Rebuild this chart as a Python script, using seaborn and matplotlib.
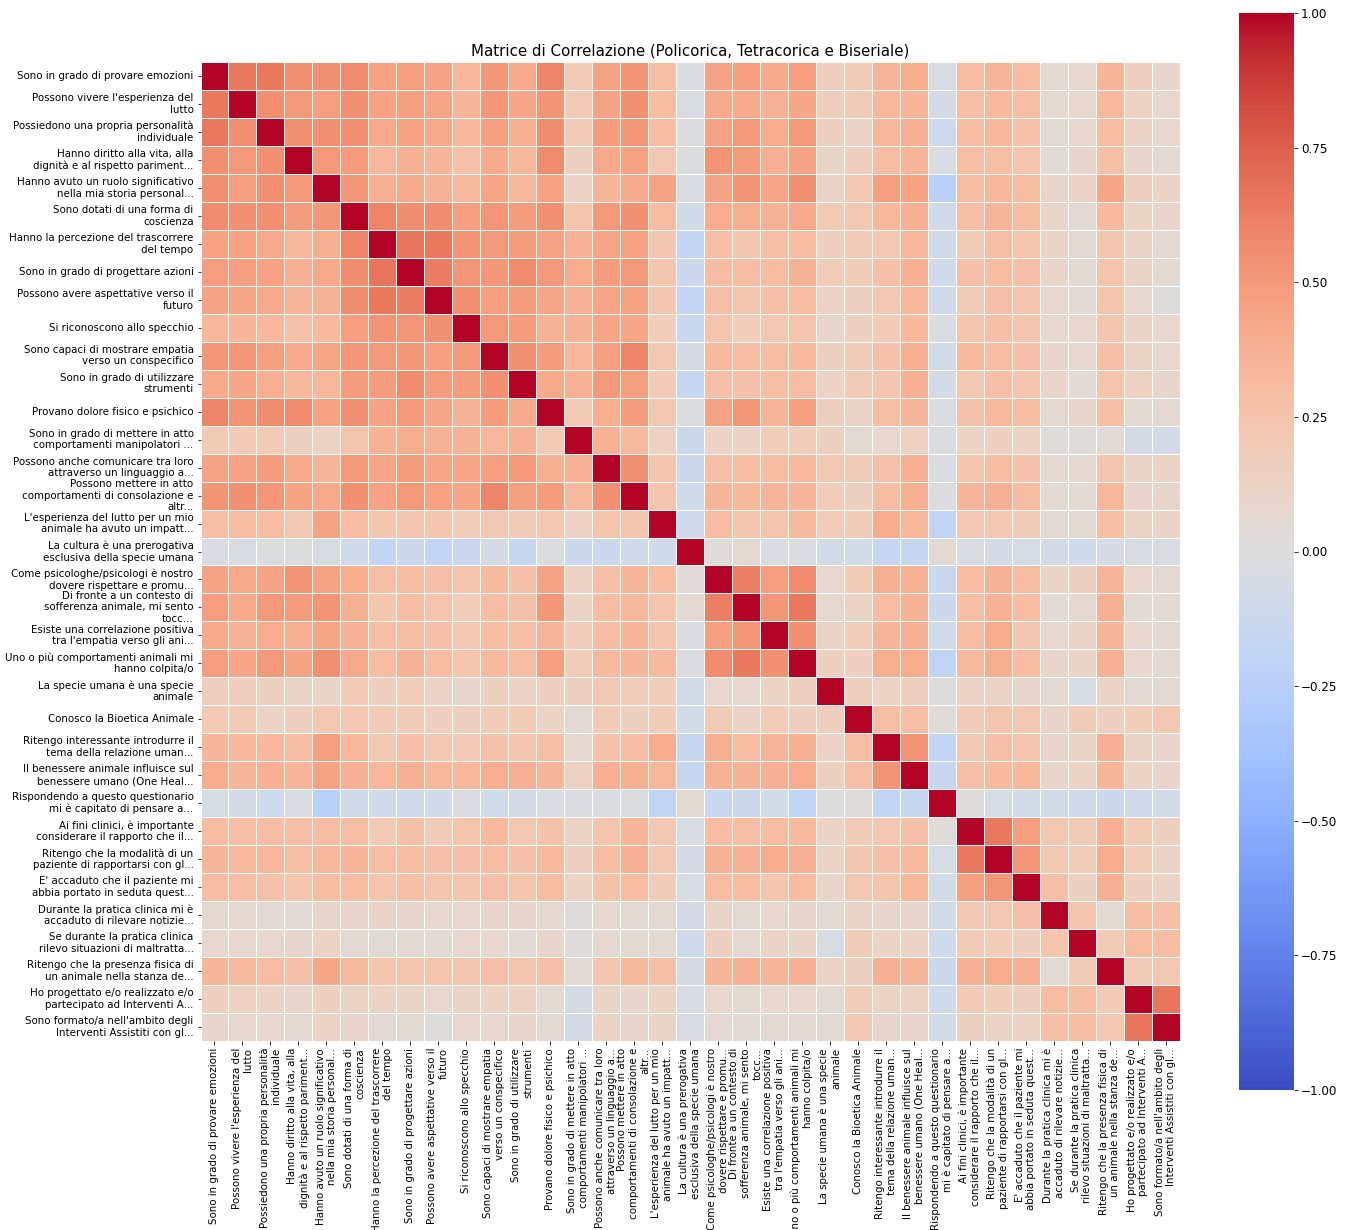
import numpy as np
import pandas as pd
import matplotlib
matplotlib.use("Agg")
import matplotlib.pyplot as plt
import seaborn as sns

# Questionnaire items (wrapped / truncated as displayed on the axes)
items = [
    "Sono in grado di provare emozioni",
    "Possono vivere l'esperienza del\nlutto",
    "Possiedono una propria personalità\nindividuale",
    "Hanno diritto alla vita, alla\ndignità e al rispetto pariment...",
    "Hanno avuto un ruolo significativo\nnella mia storia personal...",
    "Sono dotati di una forma di\ncoscienza",
    "Hanno la percezione del trascorrere\ndel tempo",
    "Sono in grado di progettare azioni",
    "Possono avere aspettative verso il\nfuturo",
    "Si riconoscono allo specchio",
    "Sono capaci di mostrare empatia\nverso un conspecifico",
    "Sono in grado di utilizzare\nstrumenti",
    "Provano dolore fisico e psichico",
    "Sono in grado di mettere in atto\ncomportamenti manipolatori ...",
    "Possono anche comunicare tra loro\nattraverso un linguaggio a...",
    "Possono mettere in atto\ncomportamenti di consolazione e\naltr...",
    "L'esperienza del lutto per un mio\nanimale ha avuto un impatt...",
    "La cultura è una prerogativa\nesclusiva della specie umana",
    "Come psicologhe/psicologi è nostro\ndovere rispettare e promu...",
    "Di fronte a un contesto di\nsofferenza animale, mi sento\ntocc...",
    "Esiste una correlazione positiva\ntra l'empatia verso gli ani...",
    "Uno o più comportamenti animali mi\nhanno colpita/o",
    "La specie umana è una specie\nanimale",
    "Conosco la Bioetica Animale",
    "Ritengo interessante introdurre il\ntema della relazione uman...",
    "Il benessere animale influisce sul\nbenessere umano (One Heal...",
    "Rispondendo a questo questionario\nmi è capitato di pensare a...",
    "Ai fini clinici, è importante\nconsiderare il rapporto che il...",
    "Ritengo che la modalità di un\npaziente di rapportarsi con gl...",
    "E' accaduto che il paziente mi\nabbia portato in seduta quest...",
    "Durante la pratica clinica mi è\naccaduto di rilevare notizie...",
    "Se durante la pratica clinica\nrilevo situazioni di maltratta...",
    "Ritengo che la presenza fisica di\nun animale nella stanza de...",
    "Ho progettato e/o realizzato e/o\npartecipato ad Interventi A...",
    "Sono formato/a nell'ambito degli\nInterventi Assistiti con gl...",
]

# Lower triangle of the correlation matrix (row i holds columns 0..i-1)
corr_lower = [
    [],
    [0.65],
    [0.65, 0.55],
    [0.55, 0.50, 0.55],
    [0.55, 0.47, 0.55, 0.50],
    [0.57, 0.55, 0.55, 0.49, 0.51],
    [0.46, 0.46, 0.42, 0.34, 0.39, 0.60],
    [0.48, 0.47, 0.46, 0.38, 0.42, 0.56, 0.66],
    [0.45, 0.44, 0.42, 0.35, 0.37, 0.56, 0.65, 0.63],
    [0.34, 0.35, 0.33, 0.27, 0.32, 0.47, 0.53, 0.52, 0.54],
    [0.51, 0.51, 0.47, 0.41, 0.44, 0.52, 0.50, 0.51, 0.47, 0.50],
    [0.41, 0.43, 0.39, 0.34, 0.34, 0.49, 0.49, 0.57, 0.49, 0.49, 0.54],
    [0.60, 0.53, 0.56, 0.57, 0.46, 0.54, 0.45, 0.50, 0.44, 0.36, 0.49, 0.41],
    [0.20, 0.21, 0.20, 0.15, 0.13, 0.25, 0.37, 0.40, 0.37, 0.36, 0.34, 0.37, 0.20],
    [0.45, 0.45, 0.49, 0.42, 0.35, 0.50, 0.44, 0.49, 0.44, 0.43, 0.47, 0.50, 0.39, 0.37],
    [0.53, 0.54, 0.51, 0.46, 0.42, 0.54, 0.46, 0.50, 0.46, 0.43, 0.60, 0.47, 0.49, 0.32, 0.55],
    [0.29, 0.30, 0.31, 0.22, 0.45, 0.31, 0.24, 0.24, 0.24, 0.18, 0.22, 0.21, 0.22, 0.14, 0.25, 0.25],
    [-0.03, -0.04, -0.01, -0.01, -0.04, -0.09, -0.18, -0.13, -0.18, -0.14, -0.06, -0.15, -0.02, -0.12, -0.13, -0.10, -0.10],
    [0.45, 0.42, 0.45, 0.53, 0.45, 0.40, 0.29, 0.30, 0.28, 0.25, 0.32, 0.28, 0.45, 0.12, 0.28, 0.35, 0.30, 0.03],
    [0.48, 0.42, 0.50, 0.49, 0.53, 0.39, 0.24, 0.30, 0.25, 0.18, 0.30, 0.28, 0.51, 0.12, 0.30, 0.33, 0.25, 0.06, 0.62],
    [0.41, 0.37, 0.40, 0.39, 0.44, 0.37, 0.29, 0.30, 0.28, 0.22, 0.30, 0.29, 0.35, 0.18, 0.30, 0.35, 0.25, -0.03, 0.47, 0.52],
    [0.48, 0.43, 0.50, 0.45, 0.55, 0.42, 0.31, 0.36, 0.31, 0.25, 0.32, 0.30, 0.47, 0.18, 0.32, 0.35, 0.32, -0.03, 0.57, 0.65, 0.54],
    [0.17, 0.17, 0.16, 0.11, 0.11, 0.21, 0.16, 0.18, 0.13, 0.09, 0.15, 0.13, 0.15, 0.15, 0.22, 0.18, 0.18, -0.08, 0.08, 0.08, 0.12, 0.15],
    [0.20, 0.20, 0.12, 0.16, 0.23, 0.23, 0.21, 0.19, 0.16, 0.15, 0.19, 0.20, 0.12, 0.05, 0.20, 0.15, 0.19, -0.08, 0.20, 0.12, 0.18, 0.16, 0.17],
    [0.35, 0.33, 0.33, 0.30, 0.47, 0.34, 0.22, 0.28, 0.22, 0.21, 0.27, 0.24, 0.29, 0.08, 0.27, 0.30, 0.40, -0.15, 0.39, 0.31, 0.35, 0.39, 0.13, 0.29],
    [0.40, 0.35, 0.38, 0.35, 0.46, 0.38, 0.34, 0.38, 0.34, 0.33, 0.39, 0.38, 0.35, 0.14, 0.38, 0.39, 0.34, -0.15, 0.37, 0.36, 0.38, 0.40, 0.15, 0.29, 0.53],
    [-0.04, -0.06, -0.11, -0.03, -0.25, -0.09, -0.09, -0.10, -0.09, -0.03, -0.08, -0.07, -0.03, -0.03, -0.03, -0.02, -0.19, 0.05, -0.14, -0.12, -0.08, -0.20, 0.00, 0.02, -0.18, -0.15],
    [0.31, 0.29, 0.30, 0.29, 0.30, 0.29, 0.20, 0.28, 0.19, 0.25, 0.32, 0.22, 0.26, 0.12, 0.25, 0.35, 0.22, -0.04, 0.31, 0.29, 0.30, 0.32, 0.13, 0.20, 0.22, 0.28, 0.02],
    [0.35, 0.32, 0.34, 0.29, 0.33, 0.35, 0.29, 0.30, 0.28, 0.28, 0.31, 0.28, 0.32, 0.15, 0.30, 0.38, 0.22, -0.07, 0.37, 0.37, 0.40, 0.39, 0.12, 0.24, 0.28, 0.32, -0.05, 0.65],
    [0.31, 0.29, 0.27, 0.25, 0.30, 0.30, 0.25, 0.28, 0.25, 0.25, 0.28, 0.25, 0.30, 0.13, 0.26, 0.30, 0.19, -0.05, 0.30, 0.30, 0.24, 0.31, 0.10, 0.22, 0.25, 0.33, -0.08, 0.47, 0.52],
    [0.07, 0.07, 0.05, 0.04, 0.10, 0.10, 0.11, 0.10, 0.08, 0.08, 0.09, 0.10, 0.07, 0.02, 0.07, 0.05, 0.05, -0.07, 0.11, 0.05, 0.08, 0.09, 0.05, 0.11, 0.10, 0.10, -0.08, 0.22, 0.22, 0.28],
    [0.08, 0.08, 0.08, 0.09, 0.13, 0.05, 0.05, 0.05, 0.04, 0.08, 0.08, 0.04, 0.09, 0.02, 0.07, 0.05, 0.05, -0.10, 0.15, 0.07, 0.12, 0.11, -0.05, 0.19, 0.12, 0.12, -0.10, 0.20, 0.18, 0.15, 0.25],
    [0.35, 0.32, 0.31, 0.28, 0.43, 0.32, 0.24, 0.25, 0.25, 0.24, 0.28, 0.25, 0.28, 0.04, 0.24, 0.33, 0.29, -0.06, 0.35, 0.38, 0.35, 0.38, 0.12, 0.15, 0.38, 0.35, -0.12, 0.38, 0.40, 0.38, 0.05, 0.20],
    [0.15, 0.14, 0.12, 0.09, 0.15, 0.12, 0.12, 0.11, 0.08, 0.11, 0.12, 0.14, 0.05, -0.06, 0.11, 0.10, 0.12, -0.04, 0.08, 0.05, 0.08, 0.08, 0.05, 0.18, 0.12, 0.12, -0.10, 0.20, 0.18, 0.15, 0.30, 0.30, 0.20],
    [0.09, 0.08, 0.08, 0.06, 0.13, 0.10, 0.06, 0.05, 0.01, 0.08, 0.08, 0.09, 0.06, -0.07, 0.12, 0.09, 0.11, -0.04, 0.06, 0.04, 0.06, 0.06, 0.05, 0.23, 0.10, 0.10, -0.08, 0.15, 0.12, 0.12, 0.28, 0.30, 0.22, 0.66],
]

title = "Matrice di Correlazione (Policorica, Tetracorica e Biseriale)"

# Build the full symmetric matrix
n = len(items)
corr = np.eye(n)
for i, row in enumerate(corr_lower):
    for j, v in enumerate(row):
        corr[i, j] = v
        corr[j, i] = v
df = pd.DataFrame(corr, index=items, columns=items)

W, H = 1353, 1230
fig = plt.figure(figsize=(W / 72, H / 72), dpi=72)
ax = fig.add_axes([200 / W, 1 - 1041 / H, 980 / W, 979 / H])
cax = fig.add_axes([1239 / W, 1 - 1090 / H, 55 / W, 1077 / H])

sns.heatmap(
    df, ax=ax, cbar_ax=cax, cmap="coolwarm", vmin=-1, vmax=1,
    square=True, linewidths=0.5, linecolor="white",
    xticklabels=True, yticklabels=True,
)
ax.set_title(title, fontsize=15, pad=7)
ax.set_xticklabels(items, rotation=90, ha="center", multialignment="right",
                   fontsize=10.2)
ax.set_yticklabels(items, rotation=0, va="center", multialignment="right",
                   fontsize=10.2)
cax.tick_params(labelsize=12)

fig.savefig("out.png", dpi=72)
